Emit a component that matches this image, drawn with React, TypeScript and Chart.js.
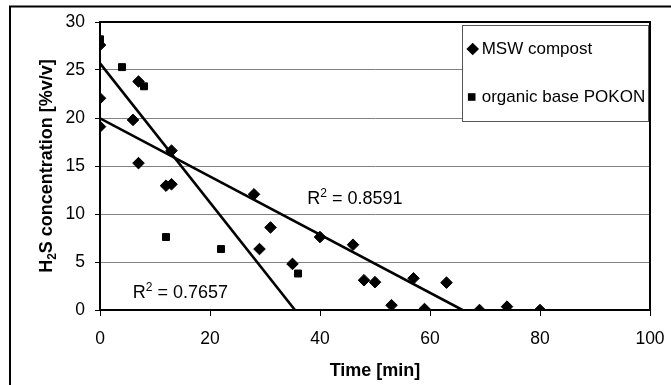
import React, { useEffect, useRef } from 'react';
import { Chart, registerables } from 'chart.js';

Chart.register(...registerables);

// ---- data ----
const seriesNames = ['MSW compost', 'organic base POKON'];

const mswX = [0, 0, 0, 6, 7, 7, 12, 13, 13, 28, 29, 31, 35, 40, 46, 48, 50, 53, 57, 59, 63, 69, 74, 80];
const mswY = [27.6, 22.05, 19.1, 19.8, 23.8, 15.3, 12.95, 13.1, 16.6, 12.05, 6.35, 8.6, 4.8, 7.6, 6.8, 3.1, 2.9, 0.5, 3.3, 0.1, 2.85, 0, 0.35, 0];

const pokonX = [0, 4, 8, 12, 22, 36];
const pokonY = [28.2, 25.3, 23.3, 7.6, 6.35, 3.8];

// linear trend lines (end points)
const mswTrendX = [0, 65.9];
const mswTrendY = [19.97, 0];
const pokonTrendX = [0, 35.45];
const pokonTrendY = [25.7, 0];

// R² annotations: text and anchor in data units
const r2Values = ['0.8591', '0.7657'];
const r2AnchorX = [37.7, 5.95];
const r2AnchorY = [11.0, 1.25];

const xTicks = [0, 20, 40, 60, 80, 100];
const yTicks = [0, 5, 10, 15, 20, 25, 30];

const xTitle = 'Time [min]';
const yTitleParts = ['H', '2', 'S concentration [%v/v]'];

const FAMILY = '"Liberation Sans", Arial, Helvetica, sans-serif';

const toPts = (xs: number[], ys: number[]) => xs.map((x, i) => ({ x, y: ys[i] }));

const decorPlugin = {
  id: 'decor',
  beforeDatasetsDraw(chart: any) {
    const { ctx, chartArea: a } = chart;
    ctx.save();
    // plot area frame (top and right)
    ctx.strokeStyle = '#000';
    ctx.lineWidth = 2;
    ctx.beginPath();
    ctx.moveTo(a.left, a.top);
    ctx.lineTo(a.right, a.top);
    ctx.lineTo(a.right, a.bottom);
    ctx.stroke();
    ctx.restore();
  },
  afterDraw(chart: any) {
    const { ctx, chartArea: a, scales } = chart;
    ctx.save();

    // outer chart border (top and left visible)
    ctx.strokeStyle = '#000';
    ctx.lineWidth = 2;
    ctx.beginPath();
    ctx.moveTo(10, 400);
    ctx.lineTo(10, 6.5);
    ctx.lineTo(700, 6.5);
    ctx.stroke();

    // y axis title with subscript
    ctx.fillStyle = '#000';
    const big = `bold 18px ${FAMILY}`;
    const small = `bold 12px ${FAMILY}`;
    ctx.font = big;
    const w1 = ctx.measureText(yTitleParts[0]).width;
    const w3 = ctx.measureText(yTitleParts[2]).width;
    ctx.font = small;
    const w2 = ctx.measureText(yTitleParts[1]).width;
    const total = w1 + w2 + w3;
    ctx.save();
    ctx.translate(52, (a.top + a.bottom) / 2);
    ctx.rotate(-Math.PI / 2);
    ctx.textAlign = 'left';
    ctx.textBaseline = 'alphabetic';
    let sx = -total / 2;
    ctx.font = big;
    ctx.fillText(yTitleParts[0], sx, 0);
    sx += w1;
    ctx.font = small;
    ctx.fillText(yTitleParts[1], sx, 4);
    sx += w2;
    ctx.font = big;
    ctx.fillText(yTitleParts[2], sx, 0);
    ctx.restore();

    // R² labels
    const rFont = `18px ${FAMILY}`;
    const supFont = `12px ${FAMILY}`;
    r2Values.forEach((v, i) => {
      const px = scales.x.getPixelForValue(r2AnchorX[i]);
      const py = scales.y.getPixelForValue(r2AnchorY[i]);
      ctx.textAlign = 'left';
      ctx.textBaseline = 'alphabetic';
      ctx.font = rFont;
      ctx.fillText('R', px, py);
      let x = px + ctx.measureText('R').width;
      ctx.font = supFont;
      ctx.fillText('2', x, py - 7);
      x += ctx.measureText('2').width;
      ctx.font = rFont;
      ctx.fillText(' = ' + v, x, py);
    });

    // legend box
    const lx = a.right - 188;
    const ly = a.top + 3;
    const lw = 186;
    const lh = 96;
    ctx.fillStyle = '#fff';
    ctx.fillRect(lx, ly, lw, lh);
    ctx.strokeStyle = '#555';
    ctx.lineWidth = 1;
    ctx.strokeRect(lx + 0.5, ly + 0.5, lw, lh);

    ctx.fillStyle = '#000';
    // diamond marker
    const d1x = lx + 10.7;
    const d1y = ly + 24;
    ctx.beginPath();
    ctx.moveTo(d1x, d1y - 6.3);
    ctx.lineTo(d1x + 6.3, d1y);
    ctx.lineTo(d1x, d1y + 6.3);
    ctx.lineTo(d1x - 6.3, d1y);
    ctx.closePath();
    ctx.fill();
    // square marker
    const d2x = lx + 9.7;
    const d2y = ly + 72;
    ctx.fillRect(d2x - 3.8, d2y - 3.8, 7.6, 7.6);

    ctx.font = `17px ${FAMILY}`;
    ctx.textAlign = 'left';
    ctx.textBaseline = 'middle';
    ctx.fillText(seriesNames[0], lx + 19.7, d1y + 0.5);
    ctx.fillText(seriesNames[1], lx + 19.7, d2y + 0.5);

    ctx.restore();
  },
};

export default function App() {
  const ref = useRef<HTMLCanvasElement | null>(null);

  useEffect(() => {
    if (!ref.current) return;
    Chart.defaults.font.family = FAMILY;
    Chart.defaults.color = '#000';
    const chart = new Chart(ref.current, {
      type: 'scatter',
      data: {
        datasets: [
          {
            label: seriesNames[0] + ' trend',
            data: toPts(mswTrendX, mswTrendY),
            showLine: true,
            borderColor: '#000',
            borderWidth: 2.6,
            pointRadius: 0,
            fill: false,
          },
          {
            label: seriesNames[1] + ' trend',
            data: toPts(pokonTrendX, pokonTrendY),
            showLine: true,
            borderColor: '#000',
            borderWidth: 2.6,
            pointRadius: 0,
            fill: false,
          },
          {
            label: seriesNames[0],
            data: toPts(mswX, mswY),
            pointStyle: 'rectRot',
            pointRadius: 5.8,
            borderWidth: 1,
            backgroundColor: '#000',
            borderColor: '#000',
          },
          {
            label: seriesNames[1],
            data: toPts(pokonX, pokonY),
            pointStyle: 'rect',
            pointRadius: 4.9,
            borderWidth: 1,
            backgroundColor: '#000',
            borderColor: '#000',
          },
        ],
      },
      options: {
        animation: false,
        responsive: false,
        devicePixelRatio: 1,
        layout: { padding: { top: 22, right: 21, left: 0, bottom: 0 } },
        plugins: {
          legend: { display: false },
          tooltip: { enabled: false },
        },
        scales: {
          x: {
            type: 'linear',
            min: 0,
            max: 100,
            afterBuildTicks: (s: any) => {
              s.ticks = xTicks.map((v) => ({ value: v }));
            },
            afterFit: (s: any) => {
              s.height = 75;
              s.paddingLeft = 0;
              s.paddingRight = 0;
            },
            ticks: {
              font: { size: 17.5 },
              color: '#000',
              padding: 13,
              maxRotation: 0,
            },
            grid: {
              drawOnChartArea: false,
              drawTicks: true,
              tickLength: 6,
              tickColor: '#000',
              tickWidth: 1,
            },
            border: { color: '#000', width: 2 },
            title: {
              display: true,
              text: xTitle,
              color: '#000',
              font: { size: 18, weight: 'bold' },
              padding: { top: 0, bottom: 3 },
            },
          },
          y: {
            type: 'linear',
            min: 0,
            max: 30,
            afterBuildTicks: (s: any) => {
              s.ticks = yTicks.map((v) => ({ value: v }));
            },
            afterFit: (s: any) => {
              s.width = 100;
              s.paddingTop = 0;
              s.paddingBottom = 0;
            },
            ticks: {
              font: { size: 17.5 },
              color: '#000',
              padding: 10,
            },
            grid: {
              color: '#808080',
              lineWidth: 1,
              drawTicks: true,
              tickLength: 5,
              tickColor: '#000',
              tickWidth: 1,
            },
            border: { color: '#000', width: 2 },
          },
        },
      },
      plugins: [decorPlugin],
    } as any);
    return () => chart.destroy();
  }, []);

  return (
    <div style={{ position: 'fixed', left: 0, top: 0, width: 671, height: 385, background: '#fff' }}>
      <canvas ref={ref} width={671} height={385} style={{ display: 'block', width: 671, height: 385 }} />
    </div>
  );
}
